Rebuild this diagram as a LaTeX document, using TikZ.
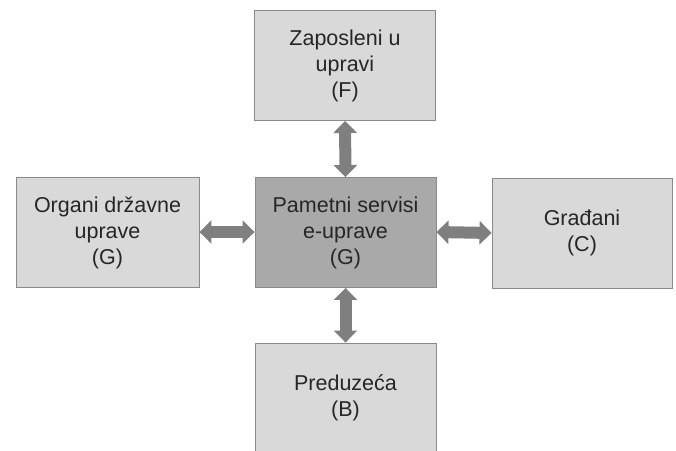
\documentclass[tikz,border=0pt]{standalone}
\usepackage{fontspec}
\setmainfont{Liberation Sans}
\usetikzlibrary{arrows.meta}
\definecolor{boxfill}{HTML}{D9D9D9}
\definecolor{centerfill}{HTML}{A9A9A9}
\definecolor{boxline}{HTML}{8A8A8A}
\definecolor{arrowgray}{HTML}{7F7F7F}
\definecolor{txt}{HTML}{262626}
\tikzset{
  entity/.style={draw=boxline, line width=0.9pt, fill=boxfill, minimum width=181pt, minimum height=110pt,
    align=center, text=txt, font=\fontsize{21.5}{26}\selectfont, inner sep=0pt},
  hub/.style={entity, fill=centerfill},
  link/.style={draw=arrowgray, line width=12pt,
    {Triangle[length=12pt,width=23pt]}-{Triangle[length=12pt,width=23pt]}}
}
\begin{document}
\begin{tikzpicture}[x=1pt,y=-1pt]
\useasboundingbox (0,0) rectangle (676,450);
\node[entity] (F) at (345,65.5) {Zaposleni u\\upravi\\(F)};
\node[entity, minimum width=183pt] (G) at (107.5,232.5) {Organi državne\\uprave\\(G)};
\node[hub] (S) at (345.5,232.5) {Pametni servisi\\e-uprave\\(G)};
\node[entity, minimum width=180pt] (C) at (582,233) {Građani\\(C)};
\node[entity] (B) at (345.5,398) {Preduzeća\\(B)};
\draw[link] (F.south) -- (S.north);
\draw[link] (S.south) -- (B.north);
\draw[link] ([yshift=0.5pt]G.east) -- ([yshift=0.5pt]S.west);
\draw[link] ([yshift=0.5pt]S.east) -- (C.west);
\end{tikzpicture}
\end{document}
